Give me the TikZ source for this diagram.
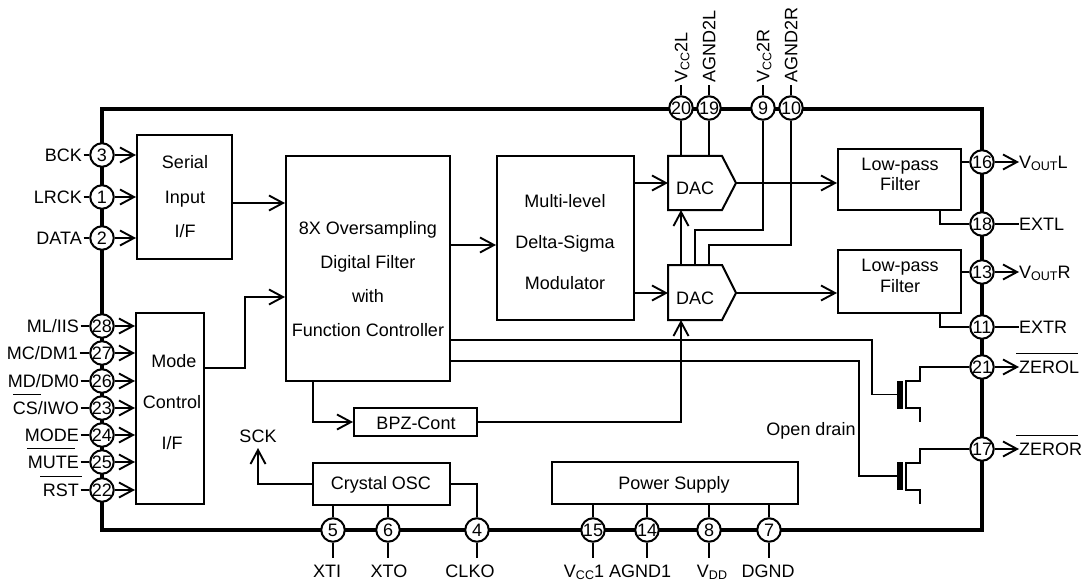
\documentclass[tikz,border=0pt]{standalone}
\usepackage{fontspec}
\setmainfont{Liberation Sans}
\usetikzlibrary{arrows.meta,calc}
\newcommand{\subt}[1]{\raisebox{-0.1em}{\fontsize{12.5}{13}\selectfont #1}}
\tikzset{
  >={Straight Barb[length=14pt,width=15pt]},
  wire/.style={line width=1.9pt},
  frameline/.style={line width=4.4pt},
  barline/.style={line width=1pt},
  boxc/.style={draw,line width=2pt,inner sep=0pt},
  lbl/.style={font=\fontsize{18}{20}\selectfont,inner sep=0pt,text height=12.9pt,text depth=0pt},
  pinc/.style={circle,draw,fill=white,line width=2pt,minimum size=23.5pt,inner sep=0pt,
    font=\fontsize{18}{20}\selectfont,text height=12.9pt,text depth=0pt},
  gatebar/.style={fill=black,inner sep=0pt,minimum width=6pt,minimum height=28pt},
}
\begin{document}
\begin{tikzpicture}[x=1pt,y=-1pt]
\useasboundingbox (0,0) rectangle (1083,580);
% frame
\draw[frameline] (102,109) rectangle (982,530);
% pins
\foreach \n/\x/\y in {3/102/155,1/102/197,2/102/238,28/102/326,27/102/353,26/102/381,23/102/408,24/102/435,25/102/462,22/102/490,
  20/681/108,19/709/108,9/763/108,10/791/108,
  16/982/162,18/982/224,13/982/272,11/982/327,21/982/367,17/982/449,
  5/333/530,6/388/530,4/477/530,15/593/530,14/647/530,8/709/530,7/769/530}
  \node[pinc] (p\n) at (\x,\y) {\makebox[0pt]{\n}};
% boxes
\node[boxc,minimum width=95pt,minimum height=124pt] (serial) at (184.5,197) {};
\node[boxc,minimum width=68pt,minimum height=191pt] (mode) at (170,408.5) {};
\node[boxc,minimum width=164pt,minimum height=225pt] (main) at (368,268.5) {};
\node[boxc,minimum width=137pt,minimum height=164pt] (modu) at (565.5,238) {};
\node[boxc,minimum width=123pt,minimum height=61pt] (lpfl) at (899.5,179.5) {};
\node[boxc,minimum width=123pt,minimum height=63pt] (lpfr) at (899.5,281.5) {};
\node[boxc,minimum width=123pt,minimum height=28pt] (bpz) at (415.5,422) {};
\node[boxc,minimum width=137pt,minimum height=42pt] (xosc) at (381.5,484) {};
\node[boxc,minimum width=246pt,minimum height=42pt] (psu) at (675,483) {};
% DAC shapes
\draw[line width=2pt,line join=miter] (668,156) coordinate (dl1) -- (722,156) -- (736,183) coordinate (dlo) -- (722,210) -- (668,210) coordinate (dl2) -- cycle;
\draw[line width=2pt,line join=miter] (668,265) coordinate (dr1) -- (722,265) -- (736,293) coordinate (dro) -- (722,320) -- (668,320) coordinate (dr2) -- cycle;
\coordinate (dlw) at (668,183);
\coordinate (drw) at (668,293);
\node[lbl] (dactl) at (695,188) {DAC};
\node[lbl] (dactr) at (695,298) {DAC};
% box texts
\node[lbl] (ts1) at (185,162) {Serial};
\node[lbl] (ts2) at (185,197) {Input};
\node[lbl] (ts3) at (185,231) {I/F};
\node[lbl] (tm1) at (174,361) {Mode};
\node[lbl] (tm2) at (172,402) {Control};
\node[lbl] (tm3) at (172,443) {I/F};
\node[lbl] (tf1) at (368,228) {8X Oversampling};
\node[lbl] (tf2) at (368,262) {Digital Filter};
\node[lbl] (tf3) at (368,296) {with};
\node[lbl] (tf4) at (368,330) {Function Controller};
\node[lbl] (td1) at (565,201) {Multi-level};
\node[lbl] (td2) at (565,242) {Delta-Sigma};
\node[lbl] (td3) at (565,283) {Modulator};
\node[lbl] (tl1) at (900,164) {Low-pass};
\node[lbl] (tl2) at (900,184) {Filter};
\node[lbl] (tr1) at (900,265) {Low-pass};
\node[lbl] (tr2) at (900,286) {Filter};
\node[lbl] at (416,423) (tbpz) {BPZ-Cont};
\node[lbl] at (381,483) (tosc) {Crystal OSC};
\node[lbl] at (674,483) (tpsu) {Power Supply};
\node[lbl] at (811,429) (topen) {Open drain};
\node[lbl] at (258,436) (sck) {SCK};
% left labels
\foreach \n/\t/\y/\xe in {3/BCK/155/83.5,1/LRCK/197/83.5,2/DATA/238/83.5,
  28/ML\slash IIS/326/80.5,27/MC\slash DM1/353/79.5,26/MD\slash DM0/381/80.5,23/CS\slash IWO/408/80.5,24/MODE/435/80.5,25/MUTE/462/80.5,22/RST/490/80.5}
{
  \node[lbl,anchor=east,inner xsep=1.5pt] (l\n) at (\xe,\y) {\t};
  \draw[wire] (l\n) -- (p\n);
}
\foreach \n in {3,1,2} \draw[wire,->] (p\n) -- (p\n -| serial.west);
\foreach \n in {28,27,26,23,24,25,22} \draw[wire,->] (p\n) -- (p\n -| mode.west);
% overlines
\draw[barline] (13,394) coordinate (ocs1) -- (41,394) coordinate (ocs2);
\draw[barline] (27,448) coordinate (omu1) -- (75,448) coordinate (omu2);
\draw[barline] (40,476) coordinate (ors1) -- (82,476) coordinate (ors2);
\draw[barline] (1016,353) coordinate (ozl1) -- (1078,353) coordinate (ozl2);
\draw[barline] (1016,435.5) coordinate (ozr1) -- (1078,435.5) coordinate (ozr2);
% main flow
\draw[wire,->] (serial.east |- 0,203) -- (main.west |- 0,203);
\draw[wire,->] (mode.east |- 0,368) -- (245,368) -- (245,297) -- (main.west |- 0,297);
\draw[wire,->] (main.east |- 0,245) -- (modu.west |- 0,245);
\draw[wire,->] (modu.east |- dlw) -- (dlw);
\draw[wire,->] (modu.east |- drw) -- (drw);
\draw[wire,->] (dlo) -- (lpfl.west |- dlo);
\draw[wire,->] (dro) -- (lpfr.west |- dro);
% supply lines
\draw[wire] (p20) -- (p20 |- dl1);
\draw[wire] (p19) -- (p19 |- dl1);
\draw[wire] (p9) -- (763,230) -- (695,230) -- (695,265);
\draw[wire] (p10) -- (791,245) -- (709,245) -- (709,265);
\draw[wire,->] (681,265) -- (681,210);
% top labels
\foreach \n/\t in {20/V\subt{CC}2L,19/AGND2L,9/V\subt{CC}2R,10/AGND2R}
{
  \node[lbl,rotate=90,anchor=west,inner xsep=2pt] (t\n) at (p\n |- 0,85) {\t};
  \draw[wire] (p\n) -- (t\n.west);
}
% BPZ
\draw[wire,->] (main.south -| 313,0) -- (313,422) -- (bpz.west);
\draw[wire,->] (bpz.east) -- (681,422) -- (681,320);
% crystal
\draw[wire,->] (xosc.west) -- (258,484) -- (258,448);
\draw[wire] (p5) -- (p5 |- xosc.south);
\draw[wire] (p6) -- (p6 |- xosc.south);
\draw[wire] (p4) |- (xosc.east);
% power
\foreach \n in {15,14,8,7} \draw[wire] (p\n) -- (p\n |- psu.south);
% bottom labels
\foreach \n/\t/\x in {5/XTI/327,6/XTO/389,4/CLKO/470,15/V\subt{CC}1/584,14/AGND1/640,8/V\subt{DD}/712,7/DGND/768}
{
  \node[lbl] (b\n) at (\x,571) {\t};
  \coordinate (e\n) at (p\n |- 0,558);
  \draw[wire] (p\n) -- (e\n);
}
% right side
\draw[wire] (lpfl.east |- p16) -- (p16);
\draw[wire] (lpfr.east |- p13) -- (p13);
\draw[wire] (940,209) -- (940,224) -- (p18);
\draw[wire] (940,313) -- (940,327) -- (p11);
\node[lbl,anchor=west] (v16) at (1019,162) {V\subt{OUT}L};
\node[lbl,anchor=west] (v13) at (1019,272) {V\subt{OUT}R};
\node[lbl,anchor=west] (v18) at (1019,224) {EXTL};
\node[lbl,anchor=west] (v11) at (1019,327) {EXTR};
\node[lbl,anchor=west] (v21) at (1019,367) {ZEROL};
\node[lbl,anchor=west] (v17) at (1019,449) {ZEROR};
\draw[wire,->] (p16) -- (v16);
\draw[wire,->] (p13) -- (v13);
\draw[wire] (p18) -- (v18);
\draw[wire] (p11) -- (v11);
\draw[wire,->] (p21) -- (v21);
\draw[wire,->] (p17) -- (v17);
% transistors
\node[gatebar] (g1) at (900,394.5) {};
\node[gatebar] (g2) at (900,476) {};
\draw[wire] (main.east |- 0,340) -- (872,340) -- (872,394.5) -- (g1.west);
\draw[wire] (main.east |- 0,361) -- (859,361) -- (859,476) -- (g2.west);
\draw[wire] (p21) -- (920,367) -- (920,381) -- (906,381) -- (906,408) -- (920,408) -- (920,422);
\draw[wire] (p17) -- (920,449) -- (920,463) -- (906,463) -- (906,490) -- (920,490) -- (920,504);
\end{tikzpicture}
\end{document}
